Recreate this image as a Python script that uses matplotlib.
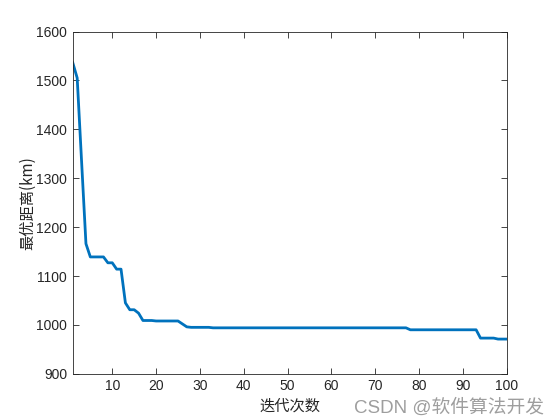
import numpy as np
import matplotlib
matplotlib.use('Agg')
import matplotlib.pyplot as plt

iterations = np.arange(1, 101)
best_dist = [
    1536, 1505, 1335, 1166, 1139, 1139, 1139, 1139, 1127, 1127,
    1114, 1114, 1045, 1031, 1031, 1024, 1009, 1009, 1009, 1008,
    1008, 1008, 1008, 1008, 1008, 1002, 996, 995, 995, 995,
    995, 995, 994, 994, 994, 994, 994, 994, 994, 994,
    994, 994, 994, 994, 994, 994, 994, 994, 994, 994,
    994, 994, 994, 994, 994, 994, 994, 994, 994, 994,
    994, 994, 994, 994, 994, 994, 994, 994, 994, 994,
    994, 994, 994, 994, 994, 994, 994, 990, 990, 990,
    990, 990, 990, 990, 990, 990, 990, 990, 990, 990,
    990, 990, 990, 973, 973, 973, 973, 971, 971, 971,
]
xticks = list(range(10, 101, 10))
yticks = list(range(900, 1601, 100))

plt.rcParams['font.family'] = ['Liberation Sans', 'Noto Sans CJK SC', 'DejaVu Sans']

fig = plt.figure(figsize=(5.6, 4.2), dpi=100)
ax = fig.add_axes([0.13, 0.11, 0.775, 0.815])

ax.plot(iterations, best_dist, color=(0, 0.447, 0.741), lw=2)

ax.set_xlim(1, 100)
ax.set_ylim(900, 1600)
ax.set_xticks(xticks)
ax.set_yticks(yticks)

grey = (0.15, 0.15, 0.15)
ax.tick_params(direction='in', top=True, right=True, length=4, width=0.6,
               labelsize=10, colors=grey, pad=4)
for sp in ax.spines.values():
    sp.set_linewidth(0.6)
    sp.set_color(grey)

ax.set_xlabel('迭代次数', fontsize=11, color=grey,
              family=['Noto Sans CJK SC', 'DejaVu Sans'], labelpad=3)
ax.set_ylabel('最优距离(km)', fontsize=11, color=grey,
              family=['Noto Sans CJK SC', 'DejaVu Sans'], labelpad=0)

# filigrane
fig.text(0.972, 0.008, 'CSDN @软件算法开发', ha='right', va='bottom',
         fontsize=13.5, color=(0.62, 0.62, 0.62),
         family=['Liberation Sans', 'Noto Sans CJK SC'])

plt.savefig('out.png', dpi=100)
